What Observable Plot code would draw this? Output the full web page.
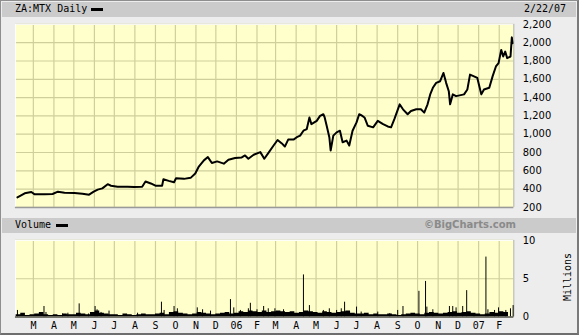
<!DOCTYPE html>
<html><head><meta charset="utf-8">
<script src="https://cdn.jsdelivr.net/npm/d3@7"></script>
<script src="https://cdn.jsdelivr.net/npm/@observablehq/plot@0.6"></script>
<style>
html,body{margin:0;padding:0;background:#fff;}
#wrap{position:relative;width:579px;height:335px;box-sizing:border-box;background:#ededed;border:1px solid #8e8e8e;border-right:2px solid #7a7a7a;border-bottom:2px solid #6e6e6e;overflow:hidden;font-family:"DejaVu Sans Mono",monospace;font-size:10px;color:#000;}
.band{position:absolute;left:1px;right:1px;height:15px;background:#cbcbcb;}
.t{position:absolute;line-height:10px;white-space:nowrap;}
.sw{position:absolute;width:12px;height:3px;background:#000;}
.chart{position:absolute;left:-1px;}
</style></head>
<body>
<div id="wrap">
  <div class="band" style="top:1px"></div>
  <div class="t" style="left:14px;top:3px">ZA:MTX Daily</div>
  <div class="sw" style="left:90px;top:7px"></div>
  <div class="t" style="left:523px;top:3px">2/22/07</div>
  <div class="band" style="top:217px"></div>
  <div class="t" style="left:14px;top:219px">Volume</div>
  <div class="sw" style="left:55px;top:223px"></div>
  <div class="t" id="bc" style="right:61px;top:219px;font-family:'DejaVu Sans',sans-serif;font-weight:bold;color:#8a8a8a">©BigCharts.com</div>
  <div id="price" class="chart" style="top:-1px"></div>
  <div id="vol" class="chart" style="top:232px"></div>
  <div class="t" style="left:537px;top:271px;width:60px;text-align:center;transform:rotate(-90deg)">Millions</div>
</div>
<script>
// ---------- data ----------
const xStart = "2005-02-02";
const xEnd = "2007-02-23";

const priceDates = [
  "2005-02-05","2005-02-16","2005-02-26","2005-03-03","2005-03-18","2005-03-30","2005-04-07","2005-04-17",
  "2005-05-02","2005-05-14","2005-05-24","2005-05-31","2005-06-06","2005-06-13","2005-06-21","2005-06-26",
  "2005-07-06","2005-07-21","2005-07-31","2005-08-12","2005-08-17","2005-08-25","2005-09-01","2005-09-11",
  "2005-09-13","2005-09-21","2005-09-29","2005-10-02","2005-10-14","2005-10-24","2005-10-31","2005-11-05",
  "2005-11-13","2005-11-19","2005-11-25","2005-12-03","2005-12-13","2005-12-20","2005-12-30","2006-01-09",
  "2006-01-14","2006-01-19","2006-01-27","2006-02-06","2006-02-12","2006-02-18","2006-02-26","2006-03-04",
  "2006-03-10","2006-03-15","2006-03-20","2006-03-28","2006-04-02","2006-04-07","2006-04-12","2006-04-17",
  "2006-04-21","2006-04-24","2006-05-02","2006-05-07","2006-05-12","2006-05-14","2006-05-17","2006-05-21",
  "2006-05-23","2006-05-27","2006-06-01","2006-06-06","2006-06-10","2006-06-16","2006-06-20","2006-06-25",
  "2006-07-01","2006-07-05","2006-07-08","2006-07-13","2006-07-18","2006-07-26","2006-08-02","2006-08-10",
  "2006-08-17","2006-08-22","2006-08-27","2006-09-04","2006-09-09","2006-09-16","2006-09-21","2006-09-29",
  "2006-10-06","2006-10-11","2006-10-16","2006-10-20","2006-10-24","2006-10-29","2006-11-04","2006-11-09",
  "2006-11-13","2006-11-17","2006-11-19","2006-11-23","2006-11-28","2006-12-05","2006-12-10","2006-12-15",
  "2006-12-19","2006-12-25","2006-12-30","2007-01-02","2007-01-05","2007-01-09","2007-01-17","2007-01-22",
  "2007-01-27","2007-01-31","2007-02-04","2007-02-07","2007-02-10","2007-02-13","2007-02-18","2007-02-20",
  "2007-02-21"
];
const priceCloses = [
  310,354,368,343,343,347,372,361,
  358,350,339,372,394,408,454,437,
  426,426,422,426,483,462,437,437,
  507,490,475,519,512,523,570,642,
  714,750,685,703,678,721,739,746,
  768,732,775,804,732,794,876,937,
  902,865,941,941,967,984,1038,1056,
  1183,1110,1146,1200,1218,1183,1092,967,
  822,984,1020,1038,912,930,876,1038,
  1129,1218,1208,1183,1092,1075,1146,1110,
  1085,1075,1164,1326,1272,1218,1254,1272,
  1272,1236,1326,1435,1507,1561,1579,1669,
  1561,1470,1326,1435,1416,1427,1435,1489,
  1651,1632,1615,1524,1435,1489,1507,1632,
  1740,1777,1921,1849,1903,1831,1849,2058,
  1994
];

// weekly background volume (millions), from first week shown
const volWeekStart = "2005-02-03";
const volWeekly = [
  0.3,0.5,0.2,0.3,0.4,0.6,0.3,0.2,0.3,0.2,0.4,0.3,
  0.3,0.5,0.4,0.3,0.6,0.8,0.5,0.4,0.3,
  0.3,0.2,0.4,0.3,0.2,0.3,0.4,0.3,0.3,
  0.4,0.5,0.3,0.6,0.7,0.5,0.4,0.3,0.4,
  0.6,0.5,0.4,0.3,0.4,0.5,0.6,0.4,0.5,
  0.7,0.6,0.8,0.7,0.6,0.8,0.6,0.7,
  0.8,0.7,0.6,0.7,0.5,0.6,0.8,0.7,0.6,
  0.5,0.7,0.6,0.5,0.6,0.7,0.8,0.5,0.4,
  0.4,0.5,0.3,0.4,0.3,0.3,0.4,0.3,0.2,
  0.3,0.4,0.5,0.4,0.3,0.5,0.6,0.5,0.4,
  0.5,0.6,0.7,0.5,0.6,0.7,0.5,0.4,0.3,
  0.4,0.6,0.5,0.7,0.6,0.8
];
// individual daily volume bars that stand out (millions)
const spikeDates = [
  "2005-02-05","2005-03-17","2005-03-20","2005-04-14","2005-04-22","2005-05-09","2005-05-23","2005-06-02",
  "2005-06-05","2005-06-11","2005-06-23","2005-08-05","2005-09-10","2005-09-14","2005-09-29","2005-10-04",
  "2005-11-03","2005-11-11","2005-11-23","2005-12-23","2005-12-28","2006-01-07","2006-01-19","2006-01-22",
  "2006-02-01","2006-02-11","2006-02-18","2006-02-28","2006-03-13","2006-04-12","2006-04-21","2006-05-12",
  "2006-05-21","2006-06-01","2006-06-08","2006-06-13","2006-07-01","2006-07-08","2006-08-02","2006-08-20",
  "2006-09-01","2006-09-09","2006-10-03","2006-10-13","2006-10-15","2006-10-24","2006-11-18","2006-11-23",
  "2006-11-28","2006-12-08","2006-12-14","2006-12-25","2007-01-12","2007-01-15","2007-01-25","2007-01-31",
  "2007-02-11","2007-02-18","2007-02-22"
];
const spikeValues = [
  0.86,1.38,0.6,0.4,0.5,1.72,0.4,1.38,
  0.95,0.6,0.78,0.5,1.94,0.86,1.38,1.08,
  1.2,0.95,0.78,2.28,1.2,0.86,1.08,1.8,
  0.95,1.38,1.08,1.08,0.95,5.5,1.5,0.86,
  1.08,0.86,1.08,1.94,1.3,0.65,0.65,0.43,
  0.86,1.38,3.36,4.65,1.3,0.95,1.38,1.38,
  1.2,1.38,3.45,0.43,7.83,0.95,0.86,1.2,
  0.86,1.08,1.5
];

const monthStarts = [
  "2005-03-01","2005-04-01","2005-05-01","2005-06-01","2005-07-01","2005-08-01","2005-09-01","2005-10-01",
  "2005-11-01","2005-12-01","2006-01-01","2006-02-01","2006-03-01","2006-04-01","2006-05-01","2006-06-01",
  "2006-07-01","2006-08-01","2006-09-01","2006-10-01","2006-11-01","2006-12-01","2007-01-01","2007-02-01"
];
const monthLabels = ["M","A","M","J","J","A","S","O","N","D","06","F","M","A","M","J","J","A","S","O","N","D","07","F"];
const priceTicks = [200,400,600,800,1000,1200,1400,1600,1800,2000,2200];
const volTicks = [0,5,10];
const volTickLabels = ["0","5","10"];

// ---------- build ----------
const P = s => new Date(s + "T00:00:00Z");
const xDomain = [P(xStart), P(xEnd)];
const price = priceDates.map((d, i) => ({date: P(d), close: priceCloses[i]}));
const volBase = volWeekly.map((v, i) => ({date: d3.utcDay.offset(P(volWeekStart), 7 * i), vol: v}));
const spikes = spikeDates.map((d, i) => ({date: P(d), vol: spikeValues[i]}));
const months = monthStarts.map(P);
const monthLabelOf = new Map(months.map((d, i) => [+d, monthLabels[i]]));

const panel = "#ffffcc";
const grid = "#cfcf9c";
const baseStyle = {background: "transparent", fontFamily: "DejaVu Sans, sans-serif", fontSize: "10px", color: "#000", overflow: "visible"};

const priceChart = Plot.plot({
  width: 580, height: 217,
  marginLeft: 15, marginRight: 64, marginTop: 24, marginBottom: 9,
  style: baseStyle,
  x: {type: "utc", domain: xDomain, axis: null},
  y: {domain: [priceTicks[0], priceTicks[priceTicks.length - 1]], axis: "right", ticks: priceTicks,
      tickSize: 0, tickPadding: 9, tickFormat: d3.format(","), label: null},
  marks: [
    Plot.frame({fill: panel, stroke: null}),
    Plot.ruleX(months, {stroke: grid, strokeWidth: 1.2}),
    Plot.ruleY(priceTicks, {stroke: grid, strokeWidth: 1.2}),
    Plot.ruleY([priceTicks[priceTicks.length - 1]], {stroke: "#ffffff"}),
    Plot.ruleX([xDomain[0]], {stroke: "#ffffff"}),
    Plot.ruleY([priceTicks[0]], {stroke: "#9a9a9a", strokeWidth: 1.5}),
    Plot.ruleX([xDomain[1]], {stroke: "#b0b0b0"}),
    Plot.line(price, {x: "date", y: "close", stroke: "#000", strokeWidth: 2})
  ]
});
document.getElementById("price").appendChild(priceChart);

const volChart = Plot.plot({
  width: 580, height: 103,
  marginLeft: 15, marginRight: 64, marginTop: 7, marginBottom: 19,
  style: baseStyle,
  x: {type: "utc", domain: xDomain, axis: "bottom", ticks: months, tickSize: 0, tickPadding: 5,
      tickFormat: d => monthLabelOf.get(+d), label: null},
  y: {domain: [volTicks[0], volTicks[volTicks.length - 1]], axis: "right", ticks: volTicks,
      tickSize: 0, tickPadding: 9, tickFormat: (d, i) => volTickLabels[volTicks.indexOf(d)], label: null},
  marks: [
    Plot.frame({fill: panel, stroke: null}),
    Plot.ruleX(months, {stroke: grid, strokeWidth: 1.2}),
    Plot.ruleY(volTicks, {stroke: grid, strokeWidth: 1.2}),
    Plot.ruleY([volTicks[volTicks.length - 1]], {stroke: "#ffffff"}),
    Plot.ruleX([xDomain[0]], {stroke: "#ffffff"}),
    Plot.ruleX([xDomain[1]], {stroke: "#b0b0b0"}),
    Plot.areaY(volBase, {x: "date", y: "vol", curve: "step-after", fill: "#000", clip: true}),
    Plot.ruleX(spikes, {x: "date", y1: 0, y2: "vol", stroke: "#000", strokeWidth: 1}),
    Plot.ruleY([volTicks[0]], {stroke: "#555", strokeWidth: 1.5})
  ]
});
document.getElementById("vol").appendChild(volChart);
const xl = volChart.querySelector('[aria-label="x-axis tick label"]');
if (xl) xl.setAttribute("font-family", "DejaVu Sans Mono, monospace");
</script>
</body></html>
